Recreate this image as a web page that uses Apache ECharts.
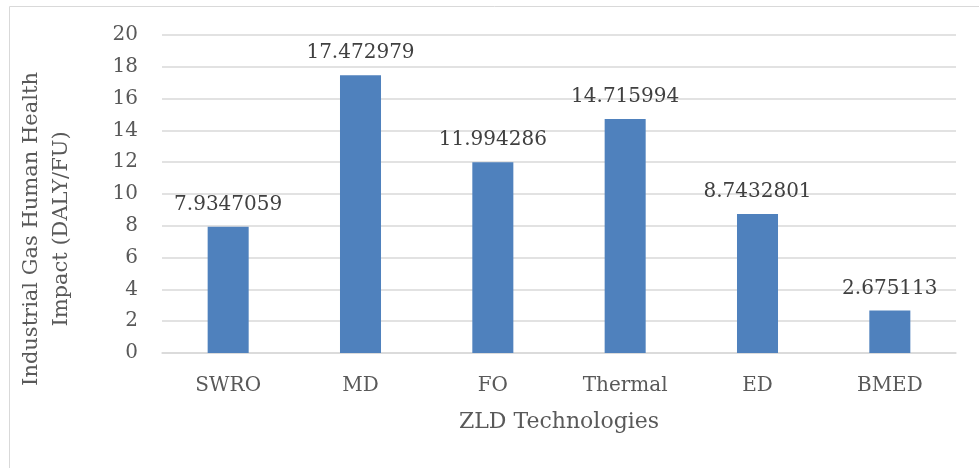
<!DOCTYPE html>
<html>
<head>
<meta charset="utf-8">
<script src="https://cdn.jsdelivr.net/npm/echarts@6/dist/echarts.min.js"></script>
<style>
  html, body { margin: 0; padding: 0; background: #fff; }
  #chart { width: 979px; height: 468px; }
</style>
</head>
<body>
<div id="chart"></div>
<script>
  // ZLD technologies and their industrial gas human health impact
  const technologies = ['SWRO', 'MD', 'FO', 'Thermal', 'ED', 'BMED']
  const impactValues = [7.9347059, 17.472979, 11.994286, 14.715994, 8.7432801, 2.675113]
  const impactLabels = ['7.9347059', '17.472979', '11.994286', '14.715994', '8.7432801', '2.675113']

  const fontFamily = '"DejaVu Serif", "Liberation Serif", serif'

  const chart = echarts.init(document.getElementById('chart'), null, { renderer: 'canvas' })

  chart.setOption({
    animation: false,
    textStyle: { fontFamily: fontFamily },
    graphic: [
      {
        type: 'rect',
        shape: { x: 9.5, y: 6.5, width: 1000, height: 600 },
        style: { fill: 'none', stroke: '#d9d9d9', lineWidth: 1 }
      },
      {
        type: 'text',
        x: 47,
        y: 229,
        rotation: Math.PI / 2,
        style: {
          text: 'Industrial Gas Human Health\nImpact (DALY/FU)',
          font: '21px ' + fontFamily,
          fill: '#595959',
          align: 'center',
          verticalAlign: 'middle',
          lineHeight: 30
        }
      }
    ],
    grid: {
      left: 162,
      right: 23,
      top: 35,
      bottom: 115
    },
    xAxis: {
      type: 'category',
      data: technologies,
      name: 'ZLD Technologies',
      nameLocation: 'middle',
      nameGap: 58,
      nameTextStyle: { fontSize: 22, color: '#595959', fontFamily: fontFamily },
      axisLine: { show: true, lineStyle: { color: '#d9d9d9', width: 1.5 } },
      axisTick: { show: false },
      axisLabel: { fontSize: 20, color: '#595959', margin: 23, fontFamily: fontFamily }
    },
    yAxis: {
      type: 'value',
      min: 0,
      max: 20,
      interval: 2,
      axisLine: { show: false },
      axisTick: { show: false },
      axisLabel: { fontSize: 20, color: '#595959', margin: 24, fontFamily: fontFamily },
      splitLine: { lineStyle: { color: '#d9d9d9', width: 1.5 } }
    },
    series: [{
      name: 'Impact',
      type: 'bar',
      data: impactValues,
      barWidth: '31%',
      itemStyle: { color: '#4f81bd' },
      label: {
        show: true,
        position: 'top',
        distance: 12,
        fontSize: 20,
        color: '#404040',
        fontFamily: fontFamily,
        formatter: p => impactLabels[p.dataIndex]
      }
    }]
  })
</script>
</body>
</html>
